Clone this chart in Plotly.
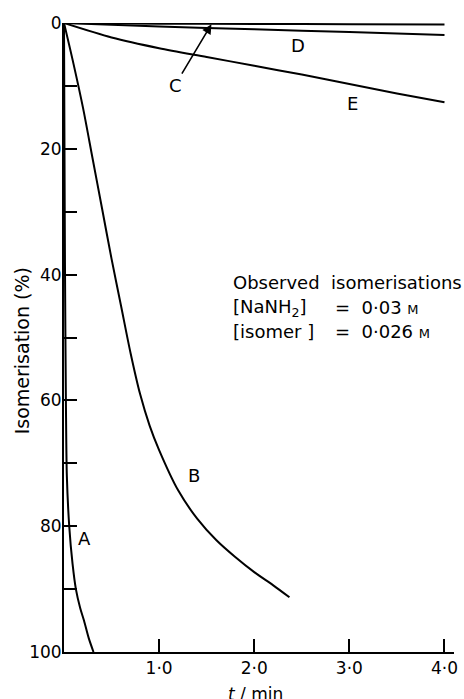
import plotly.graph_objects as go

# ---- data ----
A_t = [0, 0.005, 0.01, 0.02, 0.03, 0.055, 0.09, 0.125, 0.17, 0.21, 0.26, 0.31]
A_y = [0, 20, 38, 60, 72, 80, 86, 90, 93, 95, 97.8, 100]

B_t = [0, 0.1, 0.2, 0.3, 0.4, 0.5, 0.6, 0.7, 0.8, 0.9, 1.0, 1.2, 1.4, 1.6, 1.8, 2.0, 2.2, 2.37]
B_y = [0, 6.5, 13.5, 21.5, 29.5, 37.5, 45, 52.5, 59, 64, 67.9, 74.3, 78.8, 82.2, 84.9, 87.3, 89.4, 91.3]

C_t = [0, 1.0, 2.0, 3.0, 4.0]
C_y = [0, 0.1, 0.15, 0.2, 0.25]

D_t = [0, 1.0, 2.0, 3.0, 4.0]
D_y = [0, 0.55, 1.0, 1.45, 1.9]

E_t = [0, 0.5, 1.0, 1.5, 2.0, 2.5, 3.0, 3.5, 4.0]
E_y = [0, 2.3, 4.0, 5.4, 6.8, 8.2, 9.7, 11.2, 12.6]

x_ticks = [1, 2, 3, 4]
x_ticktext = ["1·0", "2·0", "3·0", "4·0"]
y_ticks = [0, 20, 40, 60, 80, 100]
y_minor = [10, 30, 50, 70, 90]

curves = [("A", A_t, A_y), ("B", B_t, B_y), ("C", C_t, C_y), ("D", D_t, D_y), ("E", E_t, E_y)]

FONT = "DejaVu Sans"
FS = 17
FT = 18

fig = go.Figure()
for name, t, y in curves:
    fig.add_trace(go.Scatter(x=t, y=y, mode="lines", name=name,
                             line=dict(color="black", width=2, shape="spline", smoothing=0.8),
                             cliponaxis=False, showlegend=False, hoverinfo="skip"))

# curve labels
labels = [("A", 0.22, 81.9), ("B", 1.37, 71.9), ("D", 2.46, 3.5), ("E", 3.03, 12.8), ("C", 1.17, 10.0)]
for txt, lx, ly in labels:
    fig.add_annotation(x=lx, y=ly, text=txt, showarrow=False, xref="x", yref="y",
                       font=dict(family=FONT, size=FT, color="black"))

# arrow for C
fig.add_annotation(x=1.55, y=0.2, ax=1.23, ay=8.3, axref="x", ayref="y", xref="x", yref="y",
                   text="", showarrow=True, arrowhead=2, arrowsize=1.2, arrowwidth=1.6,
                   arrowcolor="black")

# conditions text
cond = [("Observed  isomerisations", 1.76, 41.2),
        ("[NaNH<sub>2</sub>]", 1.76, 45.3),
        ("[isomer ]", 1.76, 49.1),
        ("=  0·03 <span style='font-size:13px'>M</span>", 2.83, 45.3),
        ("=  0·026 <span style='font-size:13px'>M</span>", 2.83, 49.1)]
for txt, cx, cy in cond:
    fig.add_annotation(x=cx, y=cy, text=txt, showarrow=False, xref="x", yref="y",
                       xanchor="left", yanchor="middle",
                       font=dict(family=FONT, size=FT, color="black"))

# axis titles
fig.add_annotation(x=-0.142, y=0.479, xref="paper", yref="paper", text="Isomerisation (%)",
                   textangle=-90, showarrow=False, font=dict(family=FONT, size=19, color="black"))
fig.add_annotation(x=0.49, y=-0.048, xref="paper", yref="paper", text="<i>t</i> / min",
                   yanchor="top", showarrow=False, font=dict(family=FONT, size=FS, color="black"))

fig.update_layout(
    width=464, height=699,
    margin=dict(l=64, r=6.4, t=23, b=47),
    paper_bgcolor="white", plot_bgcolor="white",
    font=dict(family=FONT, size=FS, color="black"),
    xaxis=dict(range=[0, 4.1], tickvals=x_ticks, ticktext=x_ticktext, ticks="inside",
               ticklen=13, tickwidth=1.5, tickcolor="black", showgrid=False, zeroline=False,
               showline=True, linecolor="black", linewidth=2, mirror=False,
               tickfont=dict(family=FONT, size=FS)),
    yaxis=dict(range=[100, 0], tickvals=y_ticks, ticks="inside", ticklen=13, tickwidth=1.5,
               tickcolor="black", showgrid=False, zeroline=False, showline=True,
               linecolor="black", linewidth=2, ticklabelstandoff=-3,
               minor=dict(tickvals=y_minor, ticks="inside", ticklen=13, tickwidth=1.5,
                          tickcolor="black", showgrid=False),
               tickfont=dict(family=FONT, size=FS)),
)

fig.write_html("out.html")
